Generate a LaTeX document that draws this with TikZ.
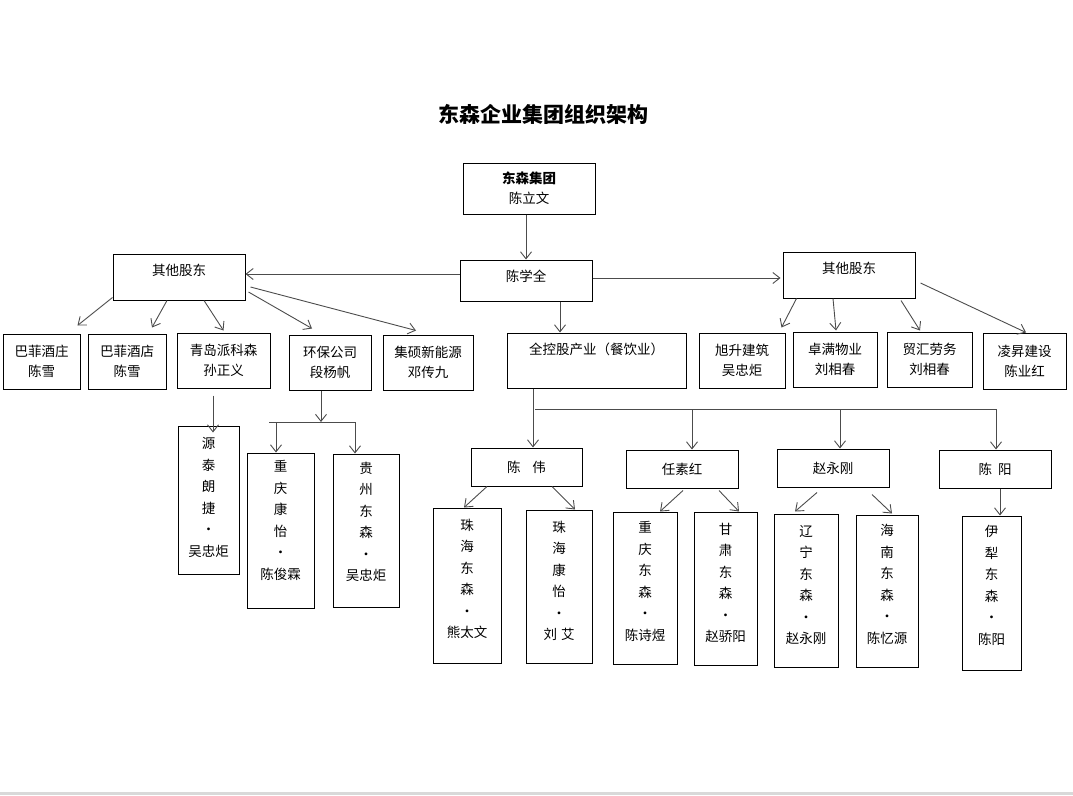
\documentclass[tikz,border=0pt]{standalone}
\usepackage{fontspec}
\setmainfont{Noto Sans CJK SC}
\usetikzlibrary{arrows.meta}

\begin{document}
\begin{tikzpicture}[x=1pt,y=-1pt,
  box/.style={draw,line width=1pt,inner sep=0pt,align=center,font=\fontsize{13.5pt}{20pt}\selectfont},
  vbox/.style={box,font=\fontsize{13.5pt}{21.5pt}\selectfont},
  topbox/.style={box,text height=21pt,text depth=#1},
  arr/.style={draw=black!70,line width=0.9pt,-{Straight Barb[length=7pt,width=11pt]}},
  bus/.style={draw=black!70,line width=0.9pt}]
\useasboundingbox (0,0) rectangle (1073,795);
\fill[black!15] (0,791.5) rectangle (1073,795);

\node[font=\fontsize{21pt}{24pt}\selectfont\bfseries] (title) at (543,114) {东森企业集团组织架构};

\node[box,minimum width=132pt,minimum height=51pt] (dsjt) at (529,188.5) {\textbf{东森集团}\\陈立文};
\node[topbox=20pt,minimum width=132pt,minimum height=41pt] (cxq) at (526,280.5) {陈学全};
\node[topbox=25pt,minimum width=132pt,minimum height=46pt] (lsh) at (179,277) {其他股东};
\node[topbox=25pt,minimum width=132pt,minimum height=46pt] (rsh) at (849,275) {其他股东};
\node[topbox=34pt,minimum width=179pt,minimum height=55pt] (qkg) at (596.5,360.5) {全控股产业（餐饮业）};

% left shareholders
\node[box,minimum width=77pt,minimum height=55pt] (bfjz) at (41.5,361.5) {巴菲酒庄\\陈雪};
\node[box,minimum width=78pt,minimum height=55pt] (bfjd) at (127,361.5) {巴菲酒店\\陈雪};
\node[box,minimum width=93pt,minimum height=55pt] (qdpks) at (223.5,360.5) {青岛派科森\\孙正义};
\node[box,minimum width=82pt,minimum height=55pt] (hbgs) at (330,362.5) {环保公司\\段杨帆};
\node[box,minimum width=90pt,minimum height=55pt] (jsxny) at (428,362.5) {集硕新能源\\邓传九};

% right shareholders
\node[box,minimum width=86pt,minimum height=55pt] (xsjz) at (742,360.5) {旭升建筑\\吴忠炬};
\node[box,minimum width=84pt,minimum height=55pt] (zmwy) at (835,359.5) {卓满物业\\刘相春};
\node[box,minimum width=85pt,minimum height=55pt] (mhlw) at (929.5,359.5) {贸汇劳务\\刘相春};
\node[box,minimum width=83pt,minimum height=56pt] (lsjs) at (1024.5,361) {凌昇建设\\陈业红};

\node[box,minimum width=111pt,minimum height=38pt] (cw) at (526.5,467) {陈\hspace{12pt}伟};
\node[box,minimum width=112pt,minimum height=38pt] (srh) at (682,469) {任素红};
\node[box,minimum width=112pt,minimum height=38pt] (zyg) at (833,468) {赵永刚};
\node[box,minimum width=112pt,minimum height=38pt] (cy) at (995,469) {陈\hspace{6pt}阳};

\foreach \n/\x/\y/\w/\h/\d/\t in {
  ytlj/208.5/500/61/148/6/{源\\泰\\朗\\捷\\·\\吴忠炬},
  cqky/280.5/530.5/67/155/21/{重\\庆\\康\\怡\\·\\陈俊霖},
  gzds/366/530.5/66/153/18/{贵\\州\\东\\森\\·\\吴忠炬},
  zhds/467/585.5/68/155/14/{珠\\海\\东\\森\\·\\熊太文},
  zhky/559/586.5/66/153/12/{珠\\海\\康\\怡\\·\\刘\hspace{4pt}艾},
  cqds/645/588/64/152/14/{重\\庆\\东\\森\\·\\陈诗煜},
  gsds/725.5/588.5/63/153/12/{甘\\肃\\东\\森\\·\\赵骄阳},
  lnds/806/590.5/64/153/12/{辽\\宁\\东\\森\\·\\赵永刚},
  hnds/887/591/62/152/14/{海\\南\\东\\森\\·\\陈忆源},
  ylds/991.5/593/59/154/16/{伊\\犁\\东\\森\\·\\陈阳}}{
  \node[vbox,minimum width=\w pt,minimum height=\h pt,text depth=\d pt] (\n) at (\x,\y) {\t};
}

\draw[arr] (cxq.north |- dsjt.south) -- (cxq.north);
\draw[arr] ([yshift=6.5pt]cxq.west) -- ([yshift=3pt]lsh.east);
\draw[arr] ([yshift=2.5pt]cxq.east) -- ([xshift=-2pt,yshift=-3pt]rsh.west);
\draw[arr] ([xshift=34pt]cxq.south) -- ([xshift=34pt]cxq.south |- qkg.north);

\draw[arr] ([yshift=3pt]lsh.south west) -- ([xshift=-3pt,yshift=8pt]bfjz.north east);
\draw[arr] ([xshift=-12pt]lsh.south) -- ([xshift=25pt,yshift=6pt]bfjd.north);
\draw[arr] ([xshift=25pt]lsh.south) -- ([yshift=2pt]qdpks.north);
\draw[arr] ([xshift=3pt,yshift=-15pt]lsh.east) -- ([xshift=-18pt,yshift=6pt]hbgs.north);
\draw[arr] ([xshift=5pt,yshift=-10pt]lsh.east) -- ([xshift=-12pt,yshift=4pt]jsxny.north);

\draw[arr] ([xshift=14pt]rsh.south west) -- ([xshift=-4pt,yshift=5pt]xsjz.north east);
\draw[arr] ([xshift=-16pt]rsh.south) -- ([xshift=1pt,yshift=1pt]zmwy.north);
\draw[arr] ([xshift=52pt,yshift=-2pt]rsh.south) -- ([xshift=-9.5pt,yshift=1pt]mhlw.north);
\draw[arr] ([xshift=5pt,yshift=-8pt]rsh.east) -- ([xshift=1.5pt]lsjs.north);

\draw[arr] ([xshift=-10.5pt,yshift=-7pt]qdpks.south) -- ([xshift=-10.5pt,yshift=-7pt]qdpks.south |- ytlj.north);

\coordinate (hb) at (321,422);
\coordinate (hbl) at (269,422);
\coordinate (hbr) at (356,422);
\draw[arr] ([xshift=-9pt]hbgs.south) -- (hb);
\draw[bus] (hbl) -- (hbr);
\draw[arr] ([xshift=-4.5pt]cqky.north |- hb) -- ([xshift=-4.5pt]cqky.north);
\draw[arr] ([xshift=-11pt]gzds.north |- hb) -- ([xshift=-11pt]gzds.north);

\coordinate (qb) at (535,409);
\coordinate (qe) at (996,409);
\draw[arr] ([xshift=-63.5pt]qkg.south) -- ([xshift=-63.5pt]qkg.south |- cw.north);
\draw[arr] (qb) -- (qe) -- ([xshift=1pt]cy.north);
\draw[arr] ([xshift=10pt]srh.north |- qb) -- ([xshift=10pt]srh.north);
\draw[arr] ([xshift=7pt]zyg.north |- qb) -- ([xshift=7pt]zyg.north);

\draw[arr] ([xshift=-39.5pt]cw.south) -- ([xshift=-3pt]zhds.north);
\draw[arr] ([xshift=25.5pt]cw.south) -- ([xshift=16pt]zhky.north);
\draw[arr] ([xshift=1pt,yshift=-2pt]srh.south) -- ([xshift=15pt]cqds.north);
\draw[arr] ([xshift=37pt,yshift=-2pt]srh.south) -- ([xshift=13.5pt]gsds.north);
\draw[arr] ([xshift=-16pt,yshift=-5pt]zyg.south) -- ([xshift=-11pt,yshift=2pt]lnds.north);
\draw[arr] ([xshift=39pt,yshift=-7pt]zyg.south) -- ([xshift=5pt,yshift=1pt]hnds.north);
\draw[arr] ([xshift=5pt]cy.south) -- ([xshift=5pt]cy.south |- ylds.north);
\end{tikzpicture}
\end{document}
